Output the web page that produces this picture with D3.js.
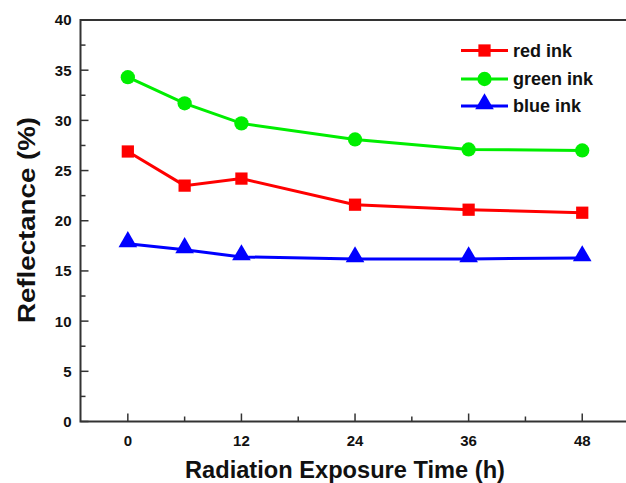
<!DOCTYPE html>
<html><head><meta charset="utf-8">
<script src="https://cdn.jsdelivr.net/npm/d3@7"></script>
<style>body{margin:0;background:#fff;}svg{display:block;}text{font-family:"Liberation Sans",Arial,sans-serif;font-weight:bold;fill:#111;}</style>
</head><body><svg id="c" width="626" height="483"></svg>
<script>
const hours = [0, 6, 12, 24, 36, 48];
const redInk = [26.9, 23.5, 24.2, 21.6, 21.1, 20.8];
const greenInk = [34.3, 31.7, 29.7, 28.1, 27.1, 27.0];
const blueInk = [17.7, 17.1, 16.4, 16.2, 16.2, 16.3];
const xTicks = [0, 12, 24, 36, 48];
const yTicks = [0, 5, 10, 15, 20, 25, 30, 35, 40];
const seriesNames = ["red ink", "green ink", "blue ink"];
const seriesColors = ["#ff0000", "#00ee00", "#0000ff"];
const seriesSymbols = [d3.symbolSquare, d3.symbolCircle, d3.symbolTriangle];
const seriesData = [redInk, greenInk, blueInk];

const svg = d3.select("#c");
const L = 80.5, T = 20, B = 421.5;
const x = d3.scaleLinear().domain([-5, 53]).range([L, L + 58 * 113.6 / 12]);
const y = d3.scaleLinear().domain([0, 40]).range([B, T]);
const axisColor = "#333";

// frame
svg.append("rect").attr("x", L).attr("y", T).attr("width", x(53) - L).attr("height", B - T)
  .attr("fill", "none").attr("stroke", axisColor).attr("stroke-width", 2);

// y axis ticks (inward)
const yMinor = d3.range(2.5, 40, 5);
svg.append("g").selectAll("line.ymaj").data(yTicks).join("line")
  .attr("x1", L).attr("x2", L + 8).attr("y1", d => y(d)).attr("y2", d => y(d))
  .attr("stroke", axisColor).attr("stroke-width", 1.5);
svg.append("g").selectAll("line.ymin").data(yMinor).join("line")
  .attr("x1", L).attr("x2", L + 5).attr("y1", d => y(d)).attr("y2", d => y(d))
  .attr("stroke", axisColor).attr("stroke-width", 1.5);
svg.append("g").selectAll("text").data(yTicks).join("text")
  .attr("x", L - 9).attr("y", d => y(d)).attr("dy", "0.36em")
  .attr("text-anchor", "end").attr("font-size", 15).text(d => d);

// x axis ticks (inward)
const xMinor = [6, 18, 30, 42];
svg.append("g").selectAll("line").data(xTicks).join("line")
  .attr("x1", d => x(d)).attr("x2", d => x(d)).attr("y1", B).attr("y2", B - 8)
  .attr("stroke", axisColor).attr("stroke-width", 1.5);
svg.append("g").selectAll("line").data(xMinor).join("line")
  .attr("x1", d => x(d)).attr("x2", d => x(d)).attr("y1", B).attr("y2", B - 5)
  .attr("stroke", axisColor).attr("stroke-width", 1.5);
svg.append("g").selectAll("text").data(xTicks).join("text")
  .attr("x", d => x(d)).attr("y", 446)
  .attr("text-anchor", "middle").attr("font-size", 15).text(d => d);

// axis titles
svg.append("text").attr("x", 345).attr("y", 478).attr("text-anchor", "middle")
  .attr("font-size", 23).attr("textLength", 320).attr("lengthAdjust", "spacingAndGlyphs")
  .text("Radiation Exposure Time (h)");
svg.append("text").attr("transform", "translate(35,220) rotate(-90)").attr("text-anchor", "middle")
  .attr("font-size", 24).attr("textLength", 206).attr("lengthAdjust", "spacingAndGlyphs")
  .text("Reflectance (%)");

// series
const line = d3.line().x((d, i) => x(hours[i])).y(d => y(d));
const symSizes = [150, 160, 150];
seriesData.forEach((vals, s) => {
  svg.append("path").datum(vals).attr("d", line).attr("fill", "none")
    .attr("stroke", seriesColors[s]).attr("stroke-width", 3);
  svg.append("g").selectAll("path").data(vals).join("path")
    .attr("transform", (d, i) => `translate(${x(hours[i])},${y(d) - (s === 2 ? 2 : 0)})`)
    .attr("d", d3.symbol().type(seriesSymbols[s]).size(symSizes[s]))
    .attr("fill", seriesColors[s]);
});

// legend
const legY = [50.5, 79, 106];
seriesNames.forEach((n, s) => {
  const g = svg.append("g");
  g.append("line").attr("x1", 461).attr("x2", 508).attr("y1", legY[s]).attr("y2", legY[s])
    .attr("stroke", seriesColors[s]).attr("stroke-width", 3);
  g.append("path").attr("transform", `translate(484.5,${legY[s] - (s === 2 ? 2 : 0)})`)
    .attr("d", d3.symbol().type(seriesSymbols[s]).size(symSizes[s])).attr("fill", seriesColors[s]);
  g.append("text").attr("x", 513).attr("y", legY[s]).attr("dy", "0.36em")
    .attr("font-size", 18).text(n);
});
</script></body></html>
